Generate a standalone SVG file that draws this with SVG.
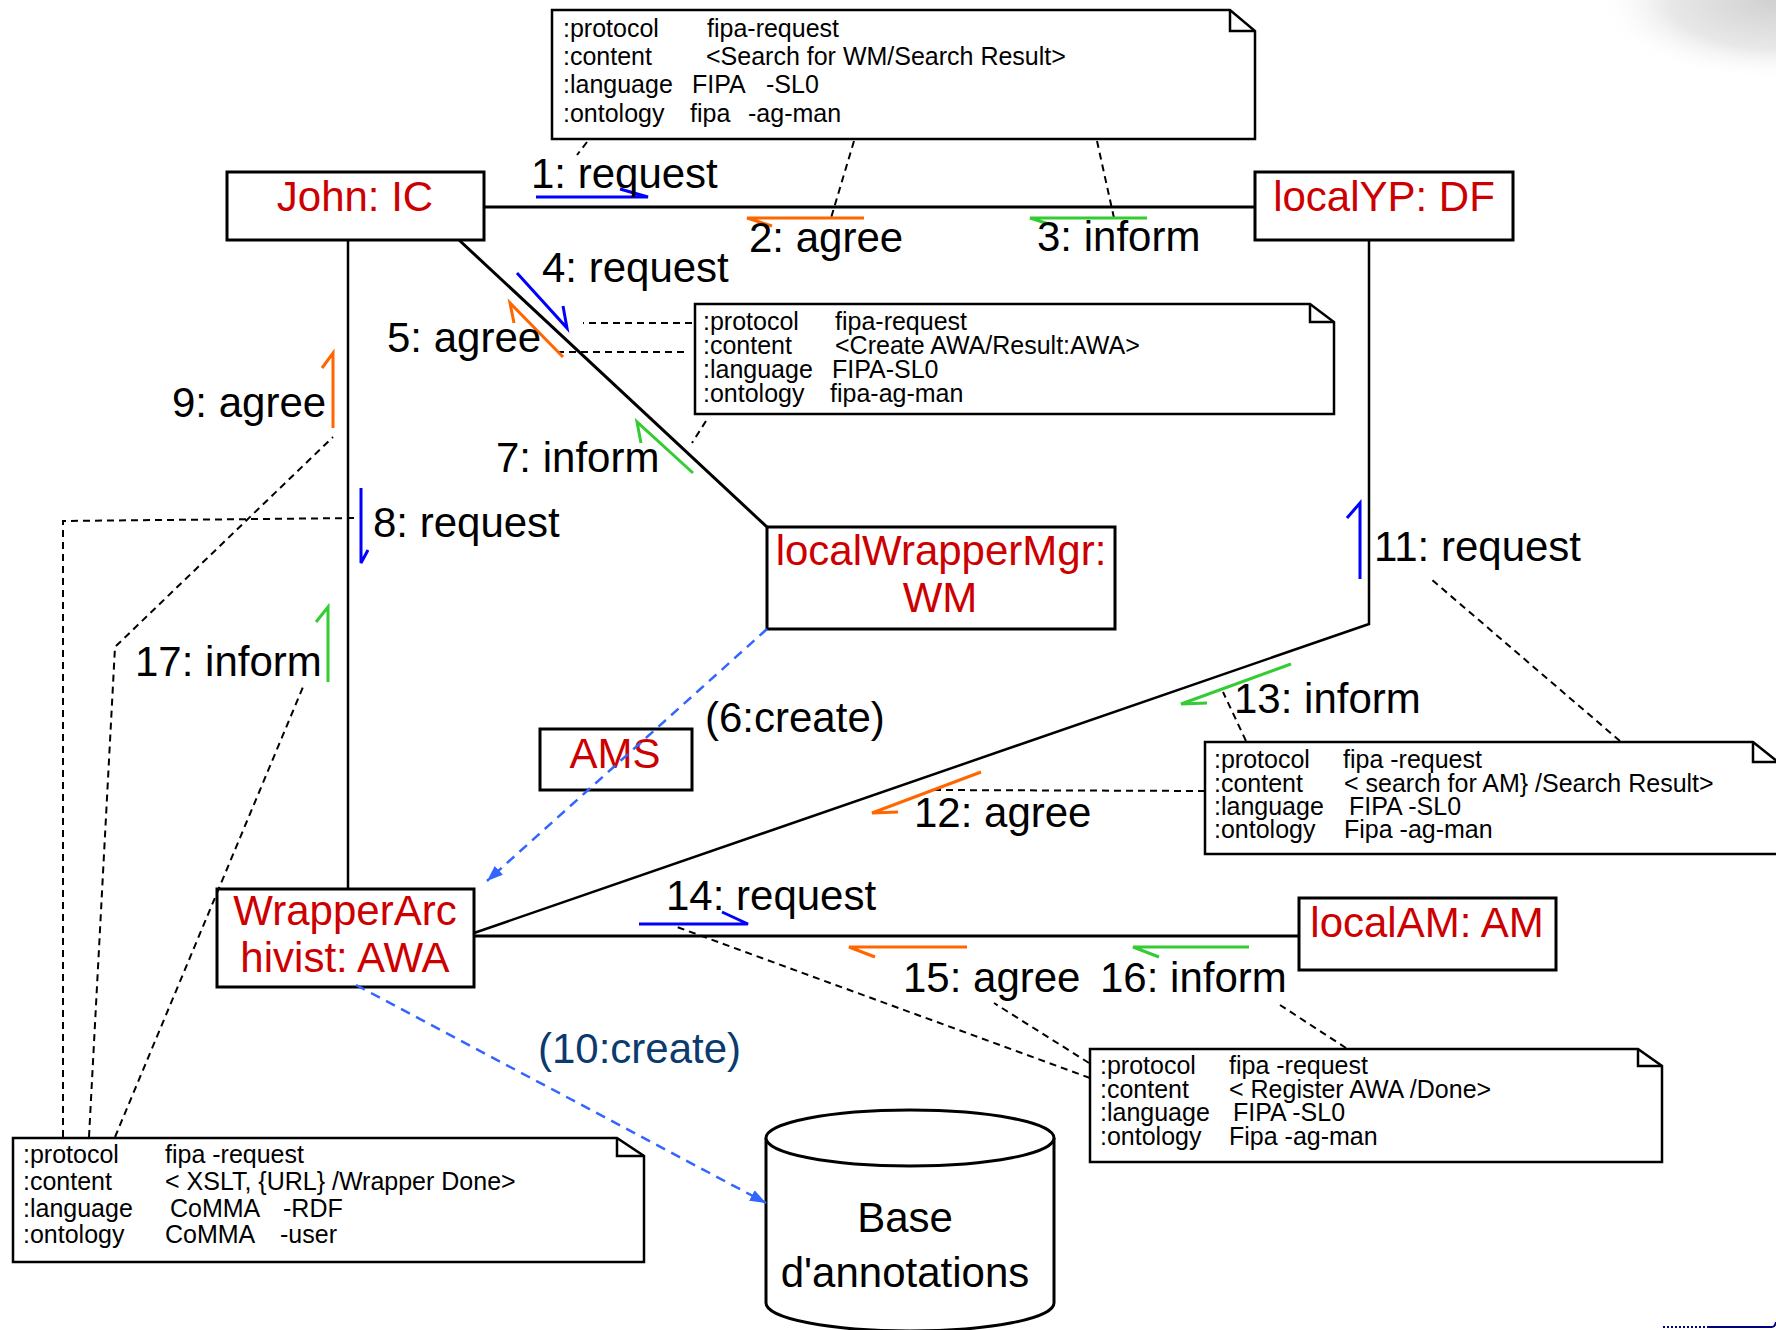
<svg xmlns="http://www.w3.org/2000/svg" width="1776" height="1330" viewBox="0 0 1776 1330">
  <style>
    text { font-family: "Liberation Sans", Arial, sans-serif; }
    .box { fill: #fff; stroke: #000; stroke-width: 3; }
    .name { font-size: 42px; fill: #cc0000; text-anchor: middle; }
    .msg { font-size: 42px; fill: #000; }
    .note { fill: #fff; stroke: #000; stroke-width: 2.5; stroke-linejoin: miter; }
    .fold { fill: none; stroke: #000; stroke-width: 2.5; }
    .nt { font-size: 25px; fill: #000; }
    .link { fill: none; stroke: #000; stroke-width: 3; }
    .life { fill: none; stroke: #000; stroke-width: 2.5; }
    .dash { fill: none; stroke: #000; stroke-width: 2; stroke-dasharray: 7 5; }
    .arr { fill: none; stroke-width: 3; stroke-linecap: butt; stroke-linejoin: miter; }
    .req { stroke: #0000ff; }
    .agr { stroke: #ff6600; }
    .inf { stroke: #33cc33; }
    .create { fill: none; stroke: #3366ff; stroke-width: 2.5; stroke-dasharray: 10 7; }
  </style>
  <defs>
    <marker id="createHead" markerUnits="userSpaceOnUse" markerWidth="18" markerHeight="14" refX="16" refY="7" orient="auto">
      <path d="M0,1 L16,7 L0,13 Z" fill="#3366ff"/>
    </marker>
    <radialGradient id="cornerShade" gradientUnits="userSpaceOnUse" cx="1776" cy="0" r="180" gradientTransform="translate(1776 0) scale(1 0.45) translate(-1776 0)">
      <stop offset="0" stop-color="#d0d0d0"/>
      <stop offset="0.6" stop-color="#e8e8e8"/>
      <stop offset="1" stop-color="#ffffff" stop-opacity="0"/>
    </radialGradient>
  </defs>

  <rect x="0" y="0" width="1776" height="1330" fill="#fff"/>
  <rect x="1590" y="0" width="186" height="90" fill="url(#cornerShade)"/>

  <!-- message content notes -->
  <g id="note-search-wm">
    <path class="note" d="M552,10 H1230 L1255,31 V139 H552 Z"/>
    <path class="fold" d="M1230,10 V31 H1255"/>
    <text class="nt" y="37"><tspan x="563">:protocol</tspan><tspan x="707">fipa-request</tspan></text>
    <text class="nt" y="65"><tspan x="563">:content</tspan><tspan x="706">&lt;Search for WM/Search Result&gt;</tspan></text>
    <text class="nt" y="93"><tspan x="563">:language</tspan><tspan x="692">FIPA</tspan><tspan x="766">-SL0</tspan></text>
    <text class="nt" y="122"><tspan x="563">:ontology</tspan><tspan x="690">fipa</tspan><tspan x="748">-ag-man</tspan></text>
  </g>

  <g id="note-create-awa">
    <path class="note" d="M695,304 H1310 L1334,322 V414 H695 Z"/>
    <path class="fold" d="M1310,304 V322 H1334"/>
    <text class="nt" y="330"><tspan x="703">:protocol</tspan><tspan x="835">fipa-request</tspan></text>
    <text class="nt" y="354"><tspan x="703">:content</tspan><tspan x="835">&lt;Create AWA/Result:AWA&gt;</tspan></text>
    <text class="nt" y="378"><tspan x="703">:language</tspan><tspan x="832">FIPA-SL0</tspan></text>
    <text class="nt" y="402"><tspan x="703">:ontology</tspan><tspan x="830">fipa-ag-man</tspan></text>
  </g>

  <g id="note-search-am">
    <path class="note" d="M1205,742 H1753 L1778,762 V854 H1205 Z"/>
    <path class="fold" d="M1753,742 V762 H1778"/>
    <text class="nt" y="768"><tspan x="1214">:protocol</tspan><tspan x="1343">fipa -request</tspan></text>
    <text class="nt" y="792"><tspan x="1214">:content</tspan><tspan x="1344">&lt; search for AM} /Search Result&gt;</tspan></text>
    <text class="nt" y="815"><tspan x="1214">:language</tspan><tspan x="1349">FIPA -SL0</tspan></text>
    <text class="nt" y="838"><tspan x="1214">:ontology</tspan><tspan x="1344">Fipa -ag-man</tspan></text>
  </g>

  <g id="note-register-awa">
    <path class="note" d="M1090,1049 H1638 L1662,1066 V1162 H1090 Z"/>
    <path class="fold" d="M1638,1049 V1066 H1662"/>
    <text class="nt" y="1074"><tspan x="1100">:protocol</tspan><tspan x="1229">fipa -request</tspan></text>
    <text class="nt" y="1098"><tspan x="1100">:content</tspan><tspan x="1229">&lt; Register AWA /Done&gt;</tspan></text>
    <text class="nt" y="1121"><tspan x="1100">:language</tspan><tspan x="1233">FIPA -SL0</tspan></text>
    <text class="nt" y="1145"><tspan x="1100">:ontology</tspan><tspan x="1229">Fipa -ag-man</tspan></text>
  </g>

  <g id="note-wrapper">
    <path class="note" d="M13,1138 H617 L644,1156 V1262 H13 Z"/>
    <path class="fold" d="M617,1138 V1156 H644"/>
    <text class="nt" y="1163"><tspan x="23">:protocol</tspan><tspan x="165">fipa -request</tspan></text>
    <text class="nt" y="1190"><tspan x="23">:content</tspan><tspan x="165">&lt; XSLT, {URL} /Wrapper Done&gt;</tspan></text>
    <text class="nt" y="1217"><tspan x="23">:language</tspan><tspan x="170">CoMMA</tspan><tspan x="283">-RDF</tspan></text>
    <text class="nt" y="1243"><tspan x="23">:ontology</tspan><tspan x="165">CoMMA</tspan><tspan x="280">-user</tspan></text>
  </g>

  <!-- agents -->
  <g id="john-ic">
    <rect class="box" x="227" y="172" width="257" height="68"/>
    <text class="name" x="355" y="211">John: IC</text>
  </g>
  <g id="localyp-df">
    <rect class="box" x="1255" y="172" width="258" height="68"/>
    <text class="name" x="1384" y="211">localYP: DF</text>
  </g>
  <g id="localwrappermgr-wm">
    <rect class="box" x="767" y="527" width="348" height="102"/>
    <text class="name" x="941" y="565">localWrapperMgr:</text>
    <text class="name" x="940" y="612">WM</text>
  </g>
  <g id="ams">
    <rect class="box" x="540" y="729" width="152" height="61"/>
    <text class="name" x="615" y="768">AMS</text>
  </g>
  <g id="wrapperarchivist-awa">
    <rect class="box" x="217" y="889" width="257" height="98"/>
    <text class="name" x="345" y="925">WrapperArc</text>
    <text class="name" x="345" y="972">hivist: AWA</text>
  </g>
  <g id="localam-am">
    <rect class="box" x="1299" y="898" width="257" height="72"/>
    <text class="name" x="1427" y="937">localAM: AM</text>
  </g>
  <g id="base-annotations">
    <path d="M766,1138 V1303 A144,28 0 0 0 1054,1303 V1138" fill="#fff" stroke="#000" stroke-width="3"/>
    <ellipse cx="910" cy="1138" rx="144" ry="28" fill="#fff" stroke="#000" stroke-width="3"/>
    <text class="msg" x="905" y="1232" text-anchor="middle">Base</text>
    <text class="msg" x="905" y="1287" text-anchor="middle">d'annotations</text>
  </g>

  <!-- links, note anchors and messages -->
  <g id="connectors">
    <path class="link" d="M484,207 H1255"/>
    <path class="life" d="M348,240 V889"/>
    <path class="link" d="M459,240 L767,527"/>
    <path class="life" d="M1369,240 V624 L474,933"/>
    <path class="link" d="M474,936 H1299"/>

    <path class="dash" d="M587,142 L577,155"/>
    <path class="dash" d="M854,141 L831,218"/>
    <path class="dash" d="M1097,141 L1114,218"/>
    <path class="dash" d="M692,323 H583"/>
    <path class="dash" d="M684,352 H552"/>
    <path class="dash" d="M706,421 L692,443"/>
    <path class="dash" d="M63,1137 V521 L359,518"/>
    <path class="dash" d="M89,1137 L115,647 L333,437"/>
    <path class="dash" d="M115,1137 L303,687"/>
    <path class="dash" d="M1246,741 L1223,692"/>
    <path class="dash" d="M1620,741 L1431,579"/>
    <path class="dash" d="M1205,791 L931,790"/>
    <path class="dash" d="M1090,1078 L677,927"/>
    <path class="dash" d="M1089,1063 L994,1003"/>
    <path class="dash" d="M1346,1048 L1280,1005"/>

    <path class="create" d="M767,629 L487,881" marker-end="url(#createHead)"/>
    <path class="create" d="M356,985 L766,1203" marker-end="url(#createHead)"/>

    <path class="arr req" d="M536,197 H648 L620,189"/>
    <path class="arr agr" d="M864,218 H747 L772,226"/>
    <path class="arr inf" d="M1147,218 H1030 L1055,226"/>
    <path class="arr req" d="M517,273 L567,328 L563,306"/>
    <path class="arr agr" d="M563,357 L510,303 L514,323"/>
    <path class="arr inf" d="M693,473 L637,422 L641,443"/>
    <path class="arr req" d="M361,488 V563 L368,550"/>
    <path class="arr agr" d="M333,428 V353 L322,368"/>
    <path class="arr req" d="M1360,579 V503 L1347,518"/>
    <path class="arr agr" d="M981,772 L872,813 L898,812"/>
    <path class="arr inf" d="M1291,664 L1181,704 L1207,703"/>
    <path class="arr req" d="M639,924 H748 L722,912"/>
    <path class="arr agr" d="M967,947 H849 L875,957"/>
    <path class="arr inf" d="M1249,947 H1133 L1159,957"/>
    <path class="arr inf" d="M328,682 V607 L316,622"/>
  </g>

  <!-- message labels -->
  <g id="labels">
    <text class="msg" x="531" y="188">1: request</text>
    <text class="msg" x="749" y="252">2: agree</text>
    <text class="msg" x="1037" y="251">3: inform</text>
    <text class="msg" x="542" y="282">4: request</text>
    <text class="msg" x="387" y="352">5: agree</text>
    <text class="msg" x="705" y="732">(6:create)</text>
    <text class="msg" x="496" y="472">7: inform</text>
    <text class="msg" x="373" y="537">8: request</text>
    <text class="msg" x="172" y="417">9: agree</text>
    <text class="msg" x="538" y="1063" style="fill:#0b3a6e">(10:create)</text>
    <text class="msg" x="1374" y="561">11: request</text>
    <text class="msg" x="914" y="827">12: agree</text>
    <text class="msg" x="1234" y="713">13: inform</text>
    <text class="msg" x="666" y="910">14: request</text>
    <text class="msg" x="903" y="992">15: agree</text>
    <text class="msg" x="1100" y="992">16: inform</text>
    <text class="msg" x="135" y="676">17: inform</text>
  </g>

  <!-- footer rule -->
  <path d="M1663,1327 H1709" stroke="#000080" stroke-width="2" stroke-dasharray="2 2" fill="none"/>
  <path d="M1709,1327 H1772 Q1775,1327 1776,1322" stroke="#000080" stroke-width="2" fill="none"/>
</svg>
